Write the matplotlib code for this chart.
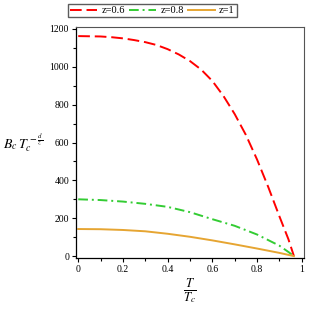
import matplotlib
matplotlib.use('Agg')
import matplotlib.pyplot as plt

# values
t_red = [0, 0.1, 0.15, 0.2, 0.25, 0.3, 0.35, 0.4, 0.45, 0.5, 0.55, 0.6, 0.65,
         0.7, 0.75, 0.8, 0.85, 0.9, 0.94, 0.965]
b_red = [1162, 1160, 1156, 1150, 1141, 1130, 1115, 1093, 1065, 1030, 985, 925, 845,
         750, 640, 510, 365, 210, 90, 0]

t_green = [0, 0.1, 0.2, 0.3, 0.4, 0.5, 0.6, 0.7, 0.8, 0.9, 0.94, 0.965]
b_green = [300, 296, 288, 276, 260, 232, 195, 160, 114, 55, 22, 0]

t_orange = [0, 0.1, 0.2, 0.3, 0.4, 0.5, 0.6, 0.7, 0.8, 0.9, 0.965]
b_orange = [143, 142, 138, 131, 118, 102, 83, 62, 40, 17, 0]

labels = ['z=0.6', 'z=0.8', 'z=1']

plt.rcParams['font.family'] = ['Liberation Serif', 'DejaVu Serif']
plt.rcParams['mathtext.fontset'] = 'stix'

fig = plt.figure(figsize=(3.09, 3.09), dpi=100)
ax = fig.add_axes([76/309, 1-258/309, 228/309, 231/309])

ax.plot(t_red, b_red, color='#ff0000', lw=1.4, dashes=(6, 2.5), label=labels[0])
ax.plot(t_green, b_green, color='#33cc33', lw=1.4, dashes=(5, 2, 1, 2), label=labels[1])
ax.plot(t_orange, b_orange, color='#e6a532', lw=1.4, label=labels[2])

ax.set_xlim(-0.01, 1.01)
ax.set_ylim(-10, 1210)
ax.set_xticks([0, 0.2, 0.4, 0.6, 0.8, 1])
ax.set_xticklabels(['0', '0.2', '0.4', '0.6', '0.8', '1'])
ax.set_xticks([0.1, 0.3, 0.5, 0.7, 0.9], minor=True)
ax.set_yticks([0, 200, 400, 600, 800, 1000, 1200])
ax.set_yticks([100, 300, 500, 700, 900, 1100], minor=True)
ax.tick_params(labelsize=7, length=3, width=0.8, pad=2)
ax.tick_params(which='minor', length=2, width=0.8)
ax.tick_params(axis='x', top=False, direction='out')

for s in ['top', 'right']:
    ax.spines[s].set_color('#555555')
    ax.spines[s].set_linewidth(0.8)
for s in ['left', 'bottom']:
    ax.spines[s].set_linewidth(0.9)

ax.set_xlabel(r'$\frac{T}{T_c}$', fontsize=13, labelpad=2)
ax.set_ylabel(r'$B_c\,T_c^{\,-\frac{d}{z}}$', fontsize=10, rotation=0)
ax.yaxis.set_label_coords(-0.23, 0.45)

fig.legend(loc='upper left', bbox_to_anchor=(68/309, 1-4/309), ncol=3, fontsize=7.5,
           frameon=True, fancybox=False, edgecolor='#333333', handlelength=2.6,
           columnspacing=0.4, handletextpad=0.4, borderpad=0.2, borderaxespad=0)

fig.savefig('out.png', dpi=100)
